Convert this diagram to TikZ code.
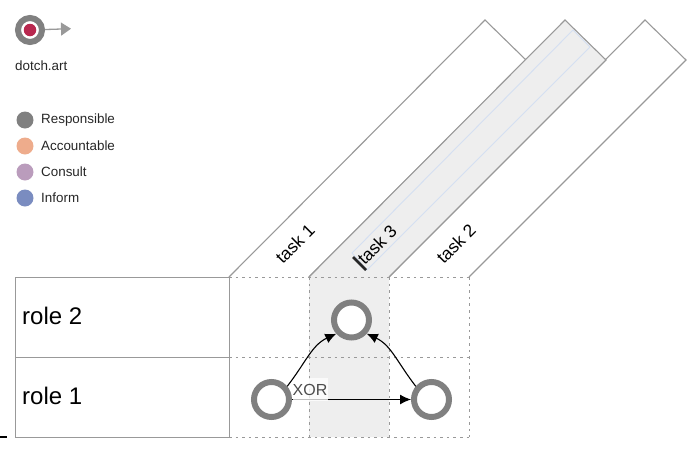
\documentclass[tikz,border=0pt]{standalone}
\usepackage{fontspec}
\setmainfont{Liberation Sans}
\usetikzlibrary{arrows.meta}
\definecolor{ringgray}{HTML}{808080}
\definecolor{edgegray}{HTML}{999999}
\definecolor{bandgray}{HTML}{EEEEEE}
\definecolor{selblue}{HTML}{D4DFF2}
\definecolor{logored}{HTML}{B8284F}
\tikzset{
  band/.style={draw=edgegray, line width=1.1pt},
  gridline/.style={draw=edgegray, line width=0.8pt, dash pattern=on 2.6pt off 4pt},
  ring/.style={circle, draw=ringgray, fill=white, line width=6pt, minimum size=35pt, inner sep=0pt},
  legenddot/.style={circle, minimum size=17pt, inner sep=0pt},
  legendtext/.style={anchor=west, inner sep=0pt, font=\fontsize{13.4}{13.4}\selectfont, text=black!85},
  rolebox/.style={draw=edgegray, line width=1.1pt, fill=white, minimum width=214pt, minimum height=80pt, anchor=north west, inner sep=0pt},
  rolelabel/.style={anchor=west, inner sep=0pt, font=\fontsize{24}{24}\selectfont},
  tasklabel/.style={rotate=45, font=\fontsize{17.5}{17.5}\selectfont},
  flow/.style={-{Latex[length=11pt,width=10pt]}, line width=1.1pt}
}
\begin{document}
\begin{tikzpicture}[x=1pt, y=-1pt]
\useasboundingbox (0, 0) rectangle (698, 450);
% task bands
\draw [band] (229, 277) -- (485, 20) -- (526, 60) -- (309, 277);
\draw [band] (389, 277) -- (645, 20) -- (686, 60) -- (469, 277);
\fill [bandgray] (309, 277) -- (565, 20) -- (606, 60) -- (389, 277) -- (389, 437) -- (309, 437) -- cycle;
\draw [band] (309, 277) -- (565, 20) -- (606, 60) -- (389, 277);
\draw [selblue, line width=0.9pt] (352, 253) -- (573, 30) -- (590, 47) -- (367, 270) -- cycle;
% grid
\draw [gridline] (229, 277) -- (469, 277);
\draw [gridline] (229, 357) -- (469, 357);
\draw [gridline] (229, 437) -- (469, 437);
\foreach \x in {229, 309, 389, 469}{\draw [gridline] (\x, 277) -- (\x, 437);}
% roles
\node [rolebox] (role2) at (15, 277) {};
\node [rolebox] (role1) at (15, 357) {};
\node [rolelabel] (role2text) at (22, 316) {role 2};
\node [rolelabel] (role1text) at (22, 396) {role 1};
\draw [black, line width=1.5pt] (0, 437) -- (7, 437);
% labels
\node [tasklabel] (task1) at (295, 244) {task 1};
\node [tasklabel] (task3) at (377, 245) {task 3};
\node [tasklabel] (task2) at (456, 244) {task 2};
\draw [black!85, line width=2.6pt] (353, 257) -- (366, 270);
% activities
\node [ring] (top) at (351.5, 320) {};
\node [ring] (left) at (271.5, 399.5) {};
\node [ring] (right) at (431.5, 399.5) {};
\draw [flow] (left) -- (right);
\node [fill=white, fill opacity=0.75, text opacity=1, text=black!70, inner sep=0pt, minimum width=35pt, minimum height=23pt, font=\fontsize{16}{16}\selectfont] (xor) at (310, 389.5) {XOR};
\draw [flow] (left.40) .. controls (306, 362) and (312, 345) .. (top.222);
\draw [flow] (right.140) .. controls (397, 362) and (391, 345) .. (top.318);
% logo
\node [circle, draw=ringgray, fill=white, line width=6pt, minimum size=24pt, inner sep=0pt] (logo) at (30, 30) {};
\node [circle, fill=logored, minimum size=12.5pt, inner sep=0pt] (logodot) at (30, 30) {};
\coordinate (logoend) at (71, 28.7);
\draw [edgegray, line width=1.3pt, -{Triangle[length=10pt,width=13pt]}] (logo) -- (logoend);
\node [anchor=west, inner sep=0pt, font=\fontsize{13.4}{13.4}\selectfont, text=black!85] (logotext) at (15, 66) {dotch.art};
% legend
\node [legenddot, fill=ringgray] (resp) at (25, 120) {};
\node [legendtext] (resptext) at (41, 120) {Responsible};
\node [legenddot, fill={rgb,255:red,238;green,172;blue,140}] (acc) at (25, 146) {};
\node [legendtext] (acctext) at (41, 146) {Accountable};
\node [legenddot, fill={rgb,255:red,186;green,156;blue,188}] (cons) at (25, 172) {};
\node [legendtext] (constext) at (41, 172) {Consult};
\node [legenddot, fill={rgb,255:red,122;green,140;blue,192}] (inf) at (25, 198) {};
\node [legendtext] (inftext) at (41, 198) {Inform};
\end{tikzpicture}
\end{document}
